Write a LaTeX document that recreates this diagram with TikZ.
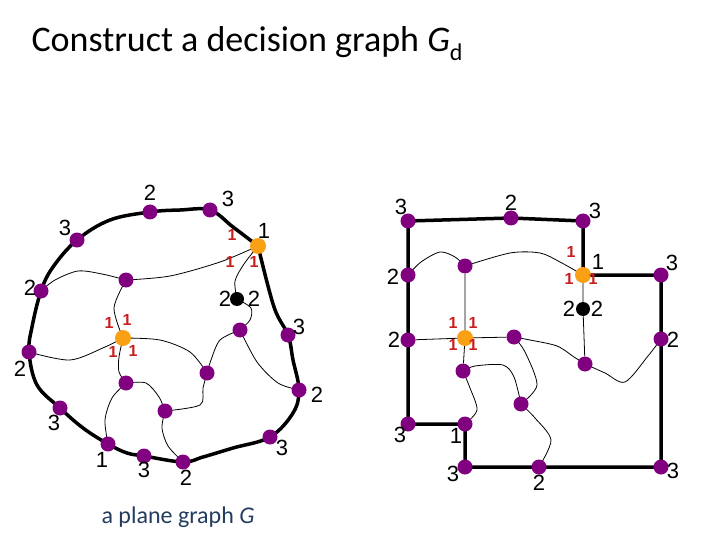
\documentclass[tikz,border=0pt]{standalone}
\usepackage{fontspec}
\setmainfont{Liberation Sans}
\newfontfamily\calibri{Carlito}
\usetikzlibrary{backgrounds}

\definecolor{dotpurple}{RGB}{128,0,128}
\definecolor{dotorange}{RGB}{250,160,20}
\definecolor{lblred}{RGB}{200,30,30}
\definecolor{captionblue}{RGB}{35,60,95}

\begin{document}
\begin{tikzpicture}[x=1pt, y=-1pt,
    dot/.style={circle, fill=dotpurple, inner sep=0pt, minimum size=15pt},
    odot/.style={dot, fill=dotorange, minimum size=16pt},
    bdot/.style={dot, fill=black, minimum size=14pt},
    num/.style={font=\fontsize{22}{22}\selectfont, inner sep=0pt},
    rnum/.style={font=\bfseries\fontsize{16}{16}\selectfont, text=lblred, inner sep=0pt},
    nl/.style n args={3}{label={[num, shift={(#1,#2)}]center:#3}},
    rl/.style n args={2}{label={[rnum, shift={(#1,#2)}]center:1}},
    rim/.style={line width=3.5pt, line join=round},
    wire/.style={line width=0.8pt}]
  \useasboundingbox (0,0) rectangle (720,540);

  \node[font=\calibri\fontsize{36}{36}\selectfont, anchor=base west] (title) at (28,52)
    {Construct a decision graph \textit{G}\raisebox{-9pt}{\fontsize{24}{24}\selectfont d}};

  % plane graph G
  \node[dot, nl={-12}{-12}{3}] (A) at (77,240) {};
  \node[dot, nl={0}{-19}{2}] (B) at (150,212) {};
  \node[dot, nl={18}{-11}{3}] (C) at (210,210) {};
  \node[odot, nl={6}{-15}{1}, rl={-26}{-11}, rl={-28}{16}, rl={-4}{16}] (D) at (258,246) {};
  \node[dot, nl={11}{-8}{3}] (E) at (288,335) {};
  \node[dot, nl={18}{5}{2}] (F) at (299,390) {};
  \node[dot, nl={12}{11}{3}] (G) at (270,437) {};
  \node[dot, nl={3}{16}{2}] (H) at (183,462) {};
  \node[dot, nl={0}{14}{3}] (I) at (144,456) {};
  \node[dot, nl={-6}{16}{1}] (J) at (108,444) {};
  \node[dot, nl={-6}{15}{3}] (K) at (60,408) {};
  \node[dot, nl={-9}{17}{2}] (L) at (29,352) {};
  \node[dot, nl={-11}{-3}{2}] (M) at (41,291) {};
  \node[dot] (N) at (126,280) {};
  \node[odot, rl={-14}{-15}, rl={4}{-18}, rl={-10}{14}, rl={10}{13}] (O) at (123,338) {};
  \node[bdot, nl={-12}{0}{2}, nl={17}{0}{2}] (P) at (237,299) {};
  \node[dot] (Q) at (240,330) {};
  \node[dot] (R) at (126,383) {};
  \node[dot] (S) at (207,373) {};
  \node[dot] (T) at (165,411) {};

  % decision graph
  \node[dot, nl={-7}{-14}{3}] (a) at (408,221) {};
  \node[dot, nl={0}{-15}{2}] (b) at (511,218) {};
  \node[dot, nl={12}{-10}{3}] (c) at (583,221) {};
  \node[odot, nl={15}{-13}{1}, rl={-12}{-23}, rl={-14}{4}, rl={10}{4}] (d) at (583,275) {};
  \node[dot, nl={11}{-12}{3}] (e) at (661,275) {};
  \node[bdot, nl={-14}{0}{2}, nl={14}{0}{2}] (f) at (583,309) {};
  \node[dot, nl={-15}{2}{2}] (g) at (408,275) {};
  \node[dot] (h) at (465,266) {};
  \node[dot, nl={-14}{0}{2}] (i) at (408,340) {};
  \node[odot, rl={-12}{-15}, rl={8}{-15}, rl={-12}{7}, rl={8}{7}] (j) at (465,338) {};
  \node[dot] (k) at (514,337) {};
  \node[dot, nl={12}{1}{2}] (l) at (661,339) {};
  \node[dot] (m) at (585,364) {};
  \node[dot] (n) at (463,371) {};
  \node[dot] (o) at (521,404) {};
  \node[dot, nl={-8}{11}{3}] (p) at (408,424) {};
  \node[dot, nl={-9}{12}{1}] (q) at (465,424) {};
  \node[dot, nl={-12}{7}{3}] (r) at (465,467) {};
  \node[dot, nl={0}{16}{2}] (s) at (539,467) {};
  \node[dot, nl={12}{4}{3}] (t) at (661,467) {};

  \node[font=\calibri\fontsize{24}{24}\selectfont, text=captionblue, anchor=base west] (caption) at (98,523)
    {a plane graph \textit{G}};

  \begin{scope}[on background layer]
    \draw[rim] plot[smooth, tension=0.6] coordinates {(D) (274,307) (E) (293,360) (F) (293,413) (G)
      (233,448) (203,457) (H) (I) (127,453) (J) (83,428) (K) (37,385) (L) (32,327) (M) (53,267)
      (A) (110,220) (B) (180,210) (C) (233,227) (D)};
    \draw[wire] plot[smooth] coordinates {(M) (55,280) (78,271) (102,274) (N)};
    \draw[wire] plot[smooth] coordinates {(N) (170,276) (220,262) (D)};
    \draw[wire] plot[smooth] coordinates {(N) (114,308) (O)};
    \draw[wire] plot[smooth] coordinates {(O) (105,347) (70,360) (L)};
    \draw[wire] plot[smooth] coordinates {(D) (244,264) (235,281) (P)};
    \draw[wire] plot[smooth] coordinates {(P) (251,308) (250,320) (Q)};
    \draw[wire] plot[smooth] coordinates {(Q) (257,362) (278,383) (F)};
    \draw[wire] plot[smooth] coordinates {(O) (160,340) (190,352) (S)};
    \draw[wire] plot[smooth] coordinates {(S) (211,360) (220,340) (Q)};
    \draw[wire] plot[smooth] coordinates {(O) (119,357) (119,372) (R)};
    \draw[wire] plot[smooth] coordinates {(R) (146,383) (159,397) (T)};
    \draw[wire] plot[smooth] coordinates {(R) (112,398) (105,420) (J)};
    \draw[wire] plot[smooth] coordinates {(T) (200,405) (203,388) (S)};
    \draw[wire] plot[smooth] coordinates {(T) (162,428) (168,446) (H)};

    \draw[rim] (a.center) -- (b.center) -- (c.center) -- (d.center) -- (e.center) -- (l.center)
      -- (t.center) -- (s.center) -- (r.center) -- (q.center) -- (p.center) -- (i.center)
      -- (g.center) -- cycle;
    \draw[wire] plot[smooth] coordinates {(g) (421,262) (440,252) (455,257) (h)};
    \draw[wire] plot[smooth] coordinates {(h) (510,253) (540,253) (560,262) (d)};
    \draw[wire] plot[smooth] coordinates {(k) (530,340) (557,346) (574,357) (m)};
    \draw[wire] plot[smooth] coordinates {(k) (525,352) (537,385) (o)};
    \draw[wire] plot[smooth] coordinates {(m) (605,373) (625,382) (648,356) (l)};
    \draw[wire] plot[smooth] coordinates {(n) (475,366) (503,365) (514,377) (o)};
    \draw[wire] plot[smooth] coordinates {(n) (470,388) (477,410) (q)};
    \draw[wire] plot[smooth] coordinates {(o) (535,418) (551,440) (s)};
    \draw[wire] (h) -- (j) (d) -- (f) -- (m) (i) -- (j) -- (k) (j) -- (n);
  \end{scope}
\end{tikzpicture}
\end{document}
